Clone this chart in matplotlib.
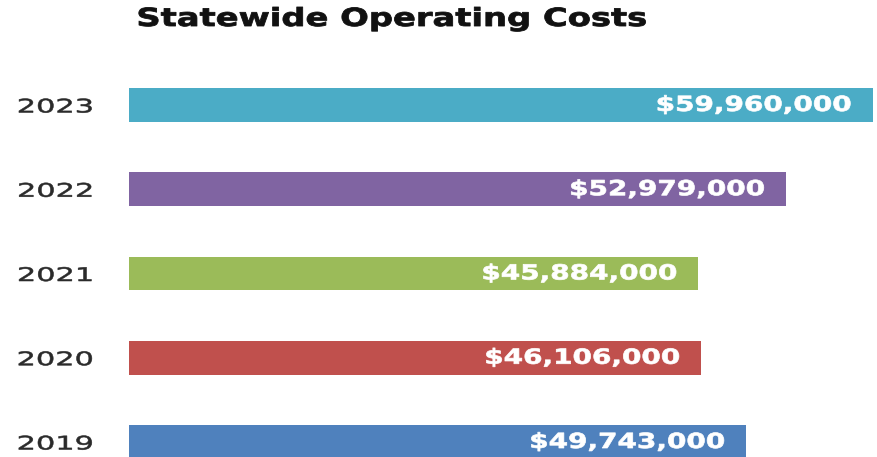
import matplotlib
matplotlib.use("Agg")
import matplotlib.pyplot as plt
from matplotlib.patheffects import AbstractPathEffect
from matplotlib.transforms import Affine2D

years = ["2019", "2020", "2021", "2022", "2023"]
costs = [49743000, 46106000, 45884000, 52979000, 59960000]
colors = ["#4F81BD", "#C0504D", "#9BBB59", "#8064A2", "#4BACC6"]
title = "Statewide Operating Costs"

plt.rcParams['font.family'] = ['DejaVu Sans']


class StretchX(AbstractPathEffect):
    """Widen rendered text horizontally about its left/right edge, optionally thicken."""
    def __init__(self, sx, anchor="left", lw=0.0):
        super().__init__()
        self.sx = sx
        self.anchor = anchor
        self.lw = lw

    def draw_path(self, renderer, gc, tpath, affine, rgbFace=None):
        ext = tpath.get_extents(affine)
        if self.anchor == "left":
            x0 = ext.x0
        elif self.anchor == "right":
            x0 = ext.x1
        else:
            x0 = 0.5 * (ext.x0 + ext.x1)
        t = affine + Affine2D().translate(-x0, 0).scale(self.sx, 1).translate(x0, 0)
        gc0 = renderer.new_gc()
        gc0.copy_properties(gc)
        if self.lw > 0 and rgbFace is not None:
            gc0.set_linewidth(self.lw)
            gc0.set_foreground(rgbFace)
            gc0.set_joinstyle("round")
        else:
            gc0.set_linewidth(0)
        renderer.draw_path(gc0, tpath, t, rgbFace)
        gc0.restore()


fig = plt.figure(figsize=(8.77, 4.57), dpi=100)
ax = fig.add_axes([129/877, 0, 1 - 129/877, 1])

pos = list(range(len(years)))
bars = ax.barh(pos, costs, height=0.4, color=colors)

ax.set_xlim(0, 748 / 12.40 * 1e6)
ax.set_ylim(-0.178, 5.246)

for b, v in zip(bars, costs):
    ax.annotate(f"${v:,.0f}", xy=(b.get_width(), b.get_y() + b.get_height()/2),
                xytext=(-15, 0), textcoords="offset points",
                ha="right", va="center", color="white", fontsize=15, fontweight="bold",
                path_effects=[StretchX(1.34, "right", lw=0.5)])

ax.set_yticks(pos)
ax.set_yticklabels(years, fontsize=13.5, color="#2a2a2a")
ax.tick_params(axis="y", length=0, pad=26)
for t in ax.get_yticklabels():
    t.set_path_effects([StretchX(1.62, "right", lw=0.4)])
ax.set_xticks([])
for s in ax.spines.values():
    s.set_visible(False)

fig.text(137/877, 1 - 19/457, title, ha="left", va="center",
         fontsize=18, fontweight="bold", color="#111111",
         path_effects=[StretchX(1.35, "left", lw=0.6)])

fig.savefig("out.png", dpi=100)
